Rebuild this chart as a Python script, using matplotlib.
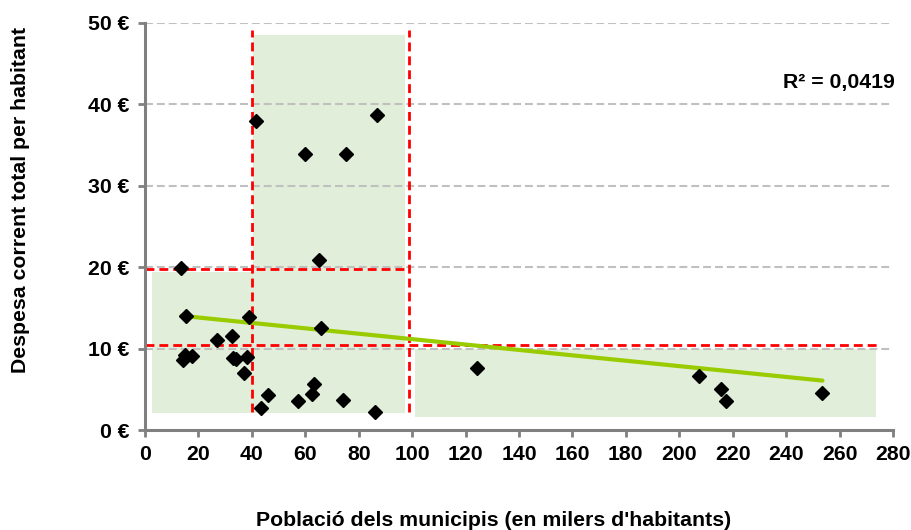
import numpy as np
import matplotlib.pyplot as plt
from matplotlib.patches import Rectangle
from matplotlib.ticker import FuncFormatter

plt.rcParams['font.family'] = ['Liberation Sans', 'DejaVu Sans']
plt.rcParams['font.weight'] = 'bold'

# population (thousands) and current spending per inhabitant (EUR)
poblacio = [13.6, 15.5, 14.2, 15.1, 17.6, 27.0, 32.4, 33.0, 34.2, 38.3,
            37.0, 39.1, 41.7, 43.6, 46.2, 57.3, 59.8, 62.7, 63.2, 65.2,
            65.8, 74.2, 75.2, 86.0, 87.0, 124.1, 207.5, 215.5, 217.4, 253.6]
despesa = [19.9, 14.0, 8.6, 9.2, 9.1, 11.0, 11.6, 8.8, 8.7, 9.0,
           7.0, 13.9, 38.0, 2.7, 4.3, 3.6, 33.9, 4.4, 5.7, 20.9,
           12.5, 3.7, 33.9, 2.2, 38.7, 7.6, 6.6, 5.0, 3.6, 4.6]

# threshold lines
tall_x = [40, 99]
tall_y = [19.8, 10.5]
r2_text = "R² = 0,0419"

x_ticks = list(range(0, 281, 20))
y_ticks = list(range(0, 51, 10))

fig = plt.figure(figsize=(9.11, 5.30), dpi=100)
ax = fig.add_axes([145/911, 1-430/530, 748/911, 407/530])

verd = '#e1eed9'
# shaded groups
ax.add_patch(Rectangle((2.8, 2.1), 97.5-2.8, 19.35-2.1, color=verd, lw=0, zorder=0))
ax.add_patch(Rectangle((40.4, 2.1), 97.5-40.4, 48.5-2.1, color=verd, lw=0, zorder=0))
ax.add_patch(Rectangle((101, 1.6), 273.7-101, 9.9-1.6, color=verd, lw=0, zorder=0))

# gridlines
for v in y_ticks[1:]:
    ax.axhline(v, color='#c0c0c0', lw=1.5, ls=(0, (3.8, 1.9)), zorder=1)

# red dashed separators
red = dict(color='#ff0000', lw=2, ls=(0, (3.2, 1.8)), zorder=2)
ax.plot([0, tall_x[1]], [tall_y[0], tall_y[0]], **red)
ax.plot([0, 275], [tall_y[1], tall_y[1]], **red)
for xv in tall_x:
    ax.plot([xv, xv], [2.2, 49.2], **red)

# linear trend
m, b = np.polyfit(poblacio, despesa, 1)
xs = np.array([min(poblacio), max(poblacio)])
ax.plot(xs, m*xs + b, color='#99cc00', lw=3, solid_capstyle='round', zorder=3)

ax.plot(poblacio, despesa, 'D', color='black', markersize=7, zorder=4)

ax.text(1.003, 0.855, r2_text, transform=ax.transAxes, ha='right', va='center',
        fontsize=15.3, fontweight='bold')

ax.set_xlim(0, 280)
ax.set_ylim(0, 50)
ax.set_xticks(x_ticks)
ax.set_yticks(y_ticks)
ax.yaxis.set_major_formatter(FuncFormatter(lambda v, p: f"{int(v)} €"))

for s in ['top', 'right']:
    ax.spines[s].set_visible(False)
for s in ['left', 'bottom']:
    ax.spines[s].set_color('#808080')
    ax.spines[s].set_linewidth(2.2)
ax.tick_params(colors='#808080', width=2, length=5, labelsize=15.3,
               labelcolor='black', pad=6)
for lab in ax.get_xticklabels() + ax.get_yticklabels():
    lab.set_fontweight('bold')

fig.text(494/911, 1 - 520/530, "Població dels municipis (en milers d'habitants)",
         ha='center', va='center', fontsize=15.3, fontweight='bold')
fig.text(21/911, 1 - 199.5/530, "Despesa corrent total per habitant",
         ha='center', va='center', rotation=90, fontsize=15.3, fontweight='bold')

fig.savefig('out.png', dpi=100)
